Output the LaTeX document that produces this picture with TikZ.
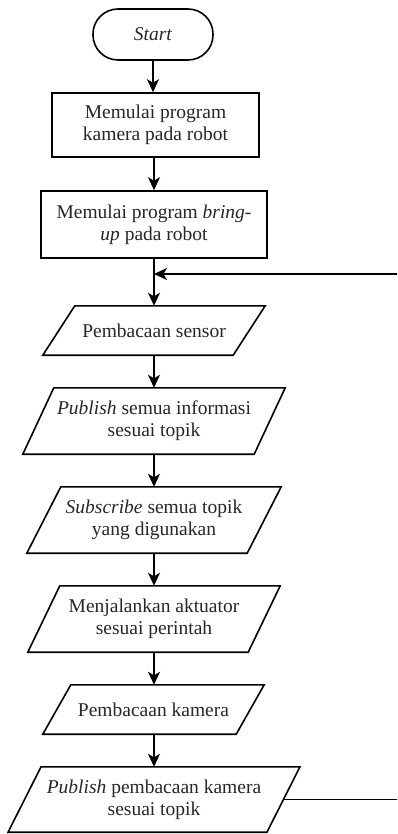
\documentclass[tikz,border=0pt]{standalone}
\usepackage{fontspec}
\setmainfont{Liberation Serif}
\usetikzlibrary{arrows.meta}

% parallelogram outline around a named node; #2 is half the horizontal slant
\newcommand\ioframe[2]{%
  \draw[frame] ([xshift=#2]#1.north west) -- ([xshift=#2]#1.north east)
    -- ([xshift=-#2]#1.south east) -- ([xshift=-#2]#1.south west) -- cycle;}

\begin{document}
\begin{tikzpicture}[x=1pt,y=-1pt,
  frame/.style={draw=black,line width=1.6pt,line join=miter},
  txt/.style={font=\fontsize{19.5}{22}\selectfont,align=center,inner sep=0pt,text=black!85},
  terminal/.style={txt,frame,rounded corners=25pt,minimum width=120pt,minimum height=51pt},
  process/.style={txt,frame,minimum height=#1},
  io/.style={txt,minimum height=#1},
  flow/.style={line width=1.6pt,-{Stealth[length=13pt,width=12pt,inset=3.5pt]}}]

\useasboundingbox (0,0) rectangle (397,834);
\clip (0,0) rectangle (397,834);

\node[terminal] (start) at (153,34.5) {\textit{Start}};
\node[process=64pt,minimum width=207pt] (b1) at (155.5,125) {Memulai program\\kamera pada robot};
\node[process=67pt,minimum width=226pt] (b2) at (154,224.5) {Memulai program \textit{bring-}\\\textit{up} pada robot};

\node[io=49pt,minimum width=190pt] (p1) at (154,330.5) {Pembacaan sensor};
\ioframe{p1}{16pt}
\node[io=66pt,minimum width=231pt] (p2) at (154,421) {\textit{Publish} semua informasi\\sesuai topik};
\ioframe{p2}{15.5pt}
\node[io=66pt,minimum width=220pt] (p3) at (154,520) {\textit{Subscribe} semua topik\\yang digunakan};
\ioframe{p3}{17pt}
\node[io=66pt,minimum width=220pt] (p4) at (154,619) {Menjalankan aktuator\\sesuai perintah};
\ioframe{p4}{16pt}
\node[io=49pt,minimum width=193pt] (p5) at (153.5,709.5) {Pembacaan kamera};
\ioframe{p5}{14pt}
\node[io=65pt,minimum width=258.5pt] (p6) at (154,799.5) {\textit{Publish} pembacaan kamera\\sesuai topik};
\ioframe{p6}{16.5pt}

% main flow
\draw[flow] (start.south) -- (start.south |- b1.north);
\draw[flow] (b1.south -| b2.north) -- (b2.north);
\draw[flow] (b2.south) -- (p1.north);
\draw[flow] (p1.south) -- (p2.north);
\draw[flow] (p2.south) -- (p3.north);
\draw[flow] (p3.south) -- (p4.north);
\draw[flow] (p4.south) -- (p5.north -| p4.south);
\draw[flow] (p5.south -| p4.south) -- (p6.north);

% loop back to the sensor reading, running past the right margin
\coordinate (merge) at (154,274);
\coordinate (farside) at (402,799.5);
\coordinate (fartop) at (402,274);
\draw[flow] (p6.east) -- (farside) -- (fartop) -- (merge);
\end{tikzpicture}
\end{document}
